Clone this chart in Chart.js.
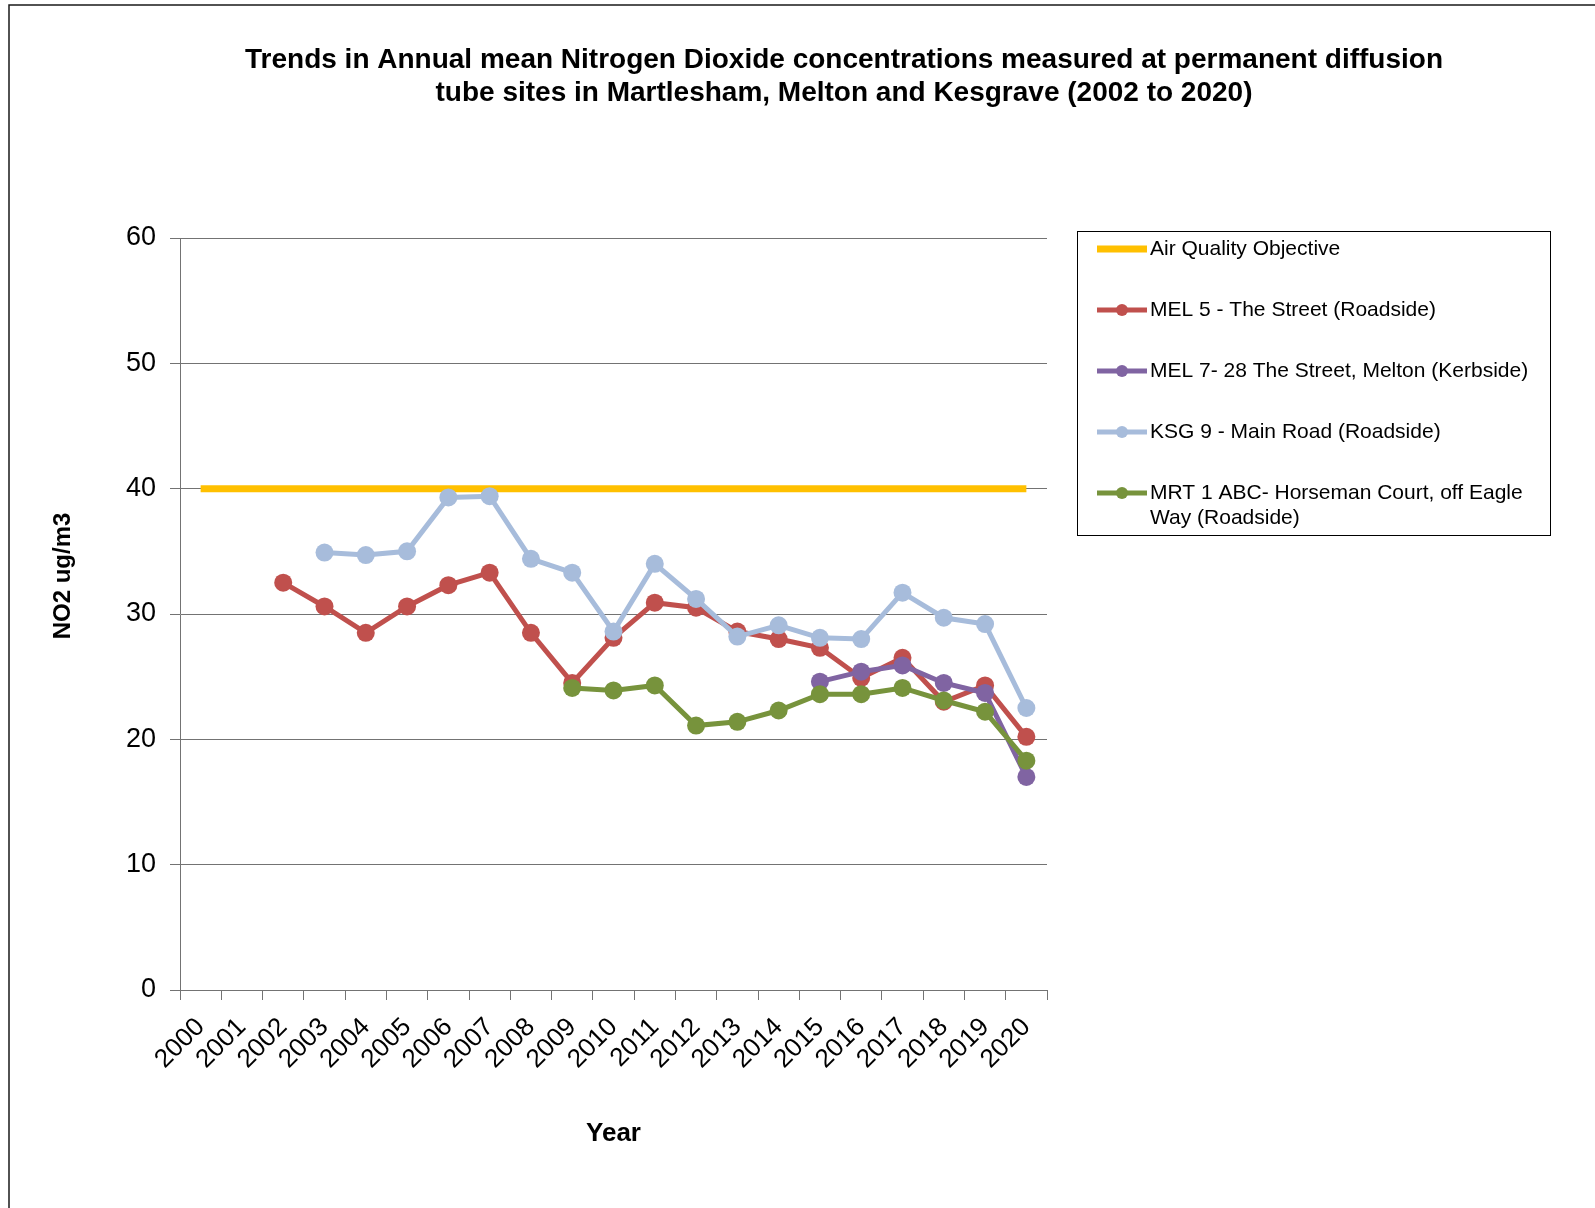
<!DOCTYPE html>
<html>
<head>
<meta charset="utf-8">
<script src="https://cdn.jsdelivr.net/npm/chart.js@4.4.1/dist/chart.umd.min.js"></script>
<style>
  html, body { margin: 0; padding: 0; background: #fff; overflow: hidden; }
  #wrap { position: relative; width: 1595px; height: 1208px; }
</style>
</head>
<body>
<div id="wrap"><canvas id="no2Chart"></canvas></div>
<script>
// years on the category axis
const years = ['2000', '2001', '2002', '2003', '2004', '2005', '2006', '2007', '2008', '2009', '2010',
  '2011', '2012', '2013', '2014', '2015', '2016', '2017', '2018', '2019', '2020'];

// annual mean NO2, ug/m3 (null = no tube that year)
const airQualityObjective = [40, 40, 40, 40, 40, 40, 40, 40, 40, 40, 40, 40, 40, 40, 40, 40, 40, 40, 40, 40, 40];
const mel5 = [null, null, 32.5, 30.6, 28.5, 30.6, 32.3, 33.3, 28.5, 24.5, 28.1, 30.9, 30.5, 28.6, 28.0, 27.3, 24.9, 26.5, 23.0, 24.3, 20.2];
const mel7 = [null, null, null, null, null, null, null, null, null, null, null, null, null, null, null, 24.6, 25.4, 25.9, 24.5, 23.7, 17.0];
const ksg9 = [null, null, null, 34.9, 34.7, 35.0, 39.3, 39.4, 34.4, 33.3, 28.6, 34.0, 31.2, 28.2, 29.1, 28.1, 28.0, 31.7, 29.7, 29.2, 22.5];
const mrt1 = [null, null, null, null, null, null, null, null, null, 24.1, 23.9, 24.3, 21.1, 21.4, 22.3, 23.6, 23.6, 24.1, 23.1, 22.2, 18.3];

const yTicks = [0, 10, 20, 30, 40, 50, 60];

const FONT = "'Liberation Sans', Arial, sans-serif";
const AXIS_GREY = '#737373';

function series(label, data, color, order) {
  return {
    label: label,
    data: data,
    borderColor: color,
    backgroundColor: color,
    borderWidth: 5,
    pointRadius: 9,
    pointHoverRadius: 9,
    pointBorderWidth: 0,
    tension: 0,
    order: order
  };
}

// title, y axis title, custom legend box and the outer frame
const chartDecor = {
  id: 'chartDecor',
  beforeDraw(chart) {
    const ctx = chart.ctx;
    ctx.save();
    ctx.fillStyle = '#fff';
    ctx.fillRect(0, 0, chart.width, chart.height);
    ctx.strokeStyle = '#1a1a1a';
    ctx.lineWidth = 1.5;
    ctx.beginPath();
    ctx.moveTo(9, chart.height);
    ctx.lineTo(9, 5);
    ctx.lineTo(chart.width, 5);
    ctx.stroke();
    ctx.restore();
  },
  afterDraw(chart) {
    const ctx = chart.ctx;
    ctx.save();
    ctx.fillStyle = '#000';
    ctx.textAlign = 'center';
    ctx.textBaseline = 'middle';
    ctx.font = 'bold 28px ' + FONT;
    ctx.fillText('Trends in Annual mean Nitrogen Dioxide concentrations measured at permanent diffusion', 844, 60);
    ctx.fillText('tube sites in Martlesham, Melton and Kesgrave (2002 to 2020)', 844, 93);

    ctx.save();
    ctx.translate(63, 576);
    ctx.rotate(-Math.PI / 2);
    ctx.font = 'bold 24px ' + FONT;
    ctx.fillText('NO2 ug/m3', 0, 0);
    ctx.restore();

    // legend
    ctx.strokeStyle = '#000';
    ctx.lineWidth = 1;
    ctx.strokeRect(1077.5, 231.5, 473, 304);
    ctx.font = '21px ' + FONT;
    ctx.textAlign = 'left';
    const maxW = 398;
    chart.data.datasets.forEach((ds, i) => {
      const y = 249 + i * 61;
      ctx.strokeStyle = ds.borderColor;
      ctx.lineWidth = ds.borderWidth;
      ctx.beginPath();
      ctx.moveTo(1097, y);
      ctx.lineTo(1147, y);
      ctx.stroke();
      if (ds.pointRadius > 0) {
        ctx.fillStyle = ds.borderColor;
        ctx.beginPath();
        ctx.arc(1122, y, 6, 0, Math.PI * 2);
        ctx.fill();
      }
      ctx.fillStyle = '#000';
      const words = ds.label.split(' ');
      let line = '';
      let ly = y;
      words.forEach(w => {
        const test = line ? line + ' ' + w : w;
        if (ctx.measureText(test).width > maxW && line) {
          ctx.fillText(line, 1150, ly);
          line = w;
          ly += 25;
        } else {
          line = test;
        }
      });
      ctx.fillText(line, 1150, ly);
    });
    ctx.restore();
  }
};

new Chart(document.getElementById('no2Chart'), {
  type: 'line',
  data: {
    labels: years,
    datasets: [
      Object.assign(series('Air Quality Objective', airQualityObjective, '#FFC000', 5), { borderWidth: 7, pointRadius: 0, pointHoverRadius: 0 }),
      series('MEL 5 - The Street (Roadside)', mel5, '#C0504D', 4),
      series('MEL 7- 28 The Street, Melton (Kerbside)', mel7, '#8064A2', 3),
      series('KSG 9 - Main Road (Roadside)', ksg9, '#A7BCDB', 2),
      series('MRT 1 ABC- Horseman Court, off Eagle Way (Roadside)', mrt1, '#77933C', 1)
    ]
  },
  options: {
    responsive: true,
    maintainAspectRatio: false,
    animation: false,
    layout: { padding: { left: 0, top: 238, right: 548, bottom: 0 } },
    plugins: {
      legend: { display: false },
      title: { display: false },
      tooltip: { enabled: false }
    },
    scales: {
      x: {
        offset: true,
        afterFit(scale) { scale.height = 218; },
        grid: {
          offset: true,
          drawOnChartArea: false,
          tickLength: 10,
          color: AXIS_GREY
        },
        border: { color: AXIS_GREY },
        ticks: {
          color: '#000',
          font: { family: FONT, size: 26 },
          minRotation: 45,
          maxRotation: 45,
          autoSkip: false,
          padding: 12
        },
        title: {
          display: true,
          text: 'Year',
          color: '#000',
          font: { family: FONT, size: 26, weight: 'bold' },
          align: 'center',
          padding: { top: 0, bottom: 59 }
        }
      },
      y: {
        min: 0,
        max: 60,
        afterFit(scale) { scale.width = 180; },
        afterBuildTicks(scale) { scale.ticks = yTicks.map(v => ({ value: v })); },
        grid: {
          color: AXIS_GREY,
          tickLength: 10
        },
        border: { color: AXIS_GREY },
        ticks: {
          color: '#000',
          font: { family: FONT, size: 27 },
          padding: 14
        }
      }
    }
  },
  plugins: [chartDecor]
});
</script>
</body>
</html>
